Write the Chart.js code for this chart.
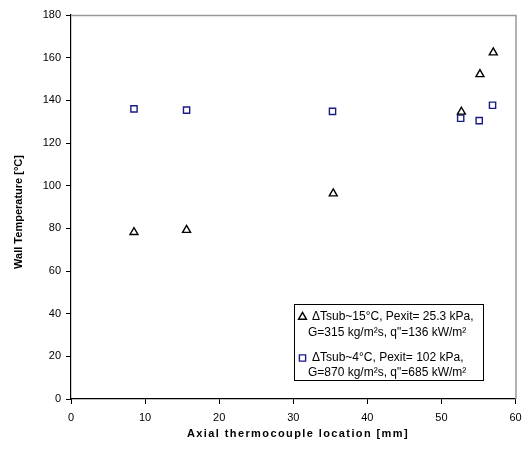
<!DOCTYPE html>
<html>
<head>
<meta charset="utf-8">
<script src="https://cdn.jsdelivr.net/npm/chart.js@4/dist/chart.umd.min.js"></script>
<style>
  html, body { margin: 0; padding: 0; background: #fff; }
  #wrap { width: 522px; height: 452px; }
</style>
</head>
<body>
<div id="wrap"><canvas id="myChart" width="522" height="452"></canvas></div>
<script>
// Data
const xLowSub = [8.5, 15.6, 35.4, 52.7, 55.2, 57.0];
const yLowSub = [78.2, 79.2, 96.3, 134.6, 152.2, 162.4];
const xHighSub = [8.5, 15.6, 35.3, 52.6, 55.1, 56.9];
const yHighSub = [136.0, 135.4, 134.8, 131.6, 130.5, 137.7];
const legendLines = [
  ['\u0394Tsub~15\u00b0C, Pexit= 25.3 kPa,', 'G=315 kg/m\u00b2s, q"=136 kW/m\u00b2'],
  ['\u0394Tsub~4\u00b0C, Pexit= 102 kPa,', 'G=870 kg/m\u00b2s, q"=685 kW/m\u00b2']
];
const xTitle = 'Axial thermocouple location [mm]';
const yTitle = 'Wall Temperature [\u00b0C]';

const FONT = '"Liberation Sans", Arial, sans-serif';

function toPoints(xs, ys) {
  return xs.map((x, i) => ({ x: x, y: ys[i] }));
}

// frame, titles and legend box
const decor = {
  id: 'decor',
  afterDraw(chart) {
    const ctx = chart.ctx;
    const a = chart.chartArea;
    ctx.save();
    // grey top and right edges
    ctx.strokeStyle = '#999';
    ctx.lineWidth = 1.5;
    ctx.beginPath();
    ctx.moveTo(a.left, a.top + 0.5);
    ctx.lineTo(a.right + 0.5, a.top + 0.5);
    ctx.lineTo(a.right + 0.5, a.bottom);
    ctx.stroke();

    // axis titles
    ctx.fillStyle = '#000';
    ctx.font = 'bold 11px ' + FONT;
    ctx.textAlign = 'center';
    ctx.textBaseline = 'middle';
    ctx.letterSpacing = '1.4px';
    ctx.fillText(xTitle, 298, 434);
    ctx.letterSpacing = '0px';
    ctx.translate(19, 212);
    ctx.rotate(-Math.PI / 2);
    ctx.fillText(yTitle, 0, 0);
    ctx.restore();

    // legend
    ctx.save();
    ctx.fillStyle = '#fff';
    ctx.fillRect(294, 304, 189, 77);
    ctx.strokeStyle = '#000';
    ctx.lineWidth = 1;
    ctx.strokeRect(294.5, 304.5, 189, 76);
    ctx.font = '12px ' + FONT;
    ctx.textAlign = 'left';
    ctx.textBaseline = 'middle';
    const ys = [[317, 333], [358, 373]];
    chart.data.datasets.forEach((ds, i) => {
      ctx.fillStyle = '#fff';
      ctx.strokeStyle = ds.borderColor;
      ctx.lineWidth = ds.borderWidth;
      Chart.helpers.drawPoint(ctx, {
        pointStyle: ds.pointStyle,
        radius: ds.pointRadius,
        borderWidth: ds.borderWidth
      }, 302.5, ys[i][0]);
      ctx.fillStyle = '#000';
      ctx.fillText(legendLines[i][0], 312, ys[i][0]);
      ctx.fillText(legendLines[i][1], 308, ys[i][1]);
    });
    ctx.restore();
  }
};

new Chart('myChart', {
  type: 'scatter',
  data: {
    datasets: [{
      label: legendLines[0].join(' '),
      data: toPoints(xLowSub, yLowSub),
      pointStyle: 'triangle',
      pointRadius: 4.6,
      borderColor: '#000',
      backgroundColor: 'rgba(0,0,0,0)',
      borderWidth: 1.4
    }, {
      label: legendLines[1].join(' '),
      data: toPoints(xHighSub, yHighSub),
      pointStyle: 'rect',
      pointRadius: 4.4,
      borderColor: '#1a1a8a',
      backgroundColor: 'rgba(0,0,0,0)',
      borderWidth: 1.4
    }]
  },
  options: {
    responsive: false,
    animation: false,
    layout: { padding: { left: 0, right: 0, top: 15, bottom: 0 } },
    plugins: {
      legend: { display: false },
      tooltip: { enabled: false }
    },
    scales: {
      x: {
        type: 'linear',
        min: 0, max: 60,
        afterFit(scale) {
          scale.height = 53;
          scale.paddingLeft = 0;
          scale.paddingRight = 6.5;
        },
        ticks: { stepSize: 10, color: '#000', font: { family: FONT, size: 11 }, padding: 7 },
        grid: { drawOnChartArea: false, tickLength: 5, color: '#000', lineWidth: 1 },
        border: { color: '#000', width: 1.2 }
      },
      y: {
        type: 'linear',
        min: 0, max: 180,
        afterFit(scale) {
          scale.width = 71;
          scale.paddingTop = 0;
          scale.paddingBottom = 0;
        },
        ticks: { stepSize: 20, color: '#000', font: { family: FONT, size: 11 }, padding: 5 },
        grid: { drawOnChartArea: false, tickLength: 5, color: '#000', lineWidth: 1 },
        border: { color: '#000', width: 1.2 }
      }
    }
  },
  plugins: [decor]
});
</script>
</body>
</html>
